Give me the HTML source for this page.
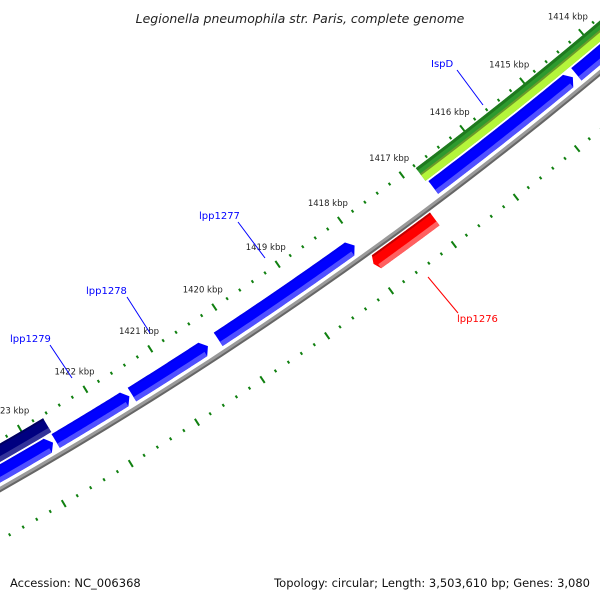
<!DOCTYPE html>
<html><head><meta charset="utf-8"><style>
html,body{margin:0;padding:0;background:#fff;}
svg{display:block;}
text{font-family:"DejaVu Sans","Liberation Sans",sans-serif;}
</style></head><body>
<svg id="map" width="600" height="600" viewBox="0 0 600 600" xmlns="http://www.w3.org/2000/svg">
<rect width="600" height="600" fill="#fff"/>
<g id="ticks"></g>
<g id="backbone"></g>
<g id="genes"></g>
<g id="labels"></g>
<g font-size="10">
<line x1="457" y1="70" x2="483" y2="105" stroke="#0000ff" stroke-width="1"/>
<text x="431" y="67" fill="#0000ff">IspD</text>
<line x1="238" y1="222" x2="265" y2="258" stroke="#0000ff" stroke-width="1"/>
<text x="199" y="219" fill="#0000ff">lpp1277</text>
<line x1="127" y1="297" x2="150" y2="333" stroke="#0000ff" stroke-width="1"/>
<text x="86" y="294" fill="#0000ff">lpp1278</text>
<line x1="50" y1="345" x2="72" y2="378" stroke="#0000ff" stroke-width="1"/>
<text x="10" y="342" fill="#0000ff">lpp1279</text>
<line x1="428" y1="277" x2="458" y2="313" stroke="#ff0000" stroke-width="1"/>
<text x="457" y="322" fill="#ff0000">lpp1276</text>
</g>
<text x="300" y="23" text-anchor="middle" font-size="12.5" font-style="italic" fill="#222">Legionella pneumophila str. Paris, complete genome</text>
<text x="10" y="587" font-size="11.5" fill="#111">Accession: NC_006368</text>
<text x="590" y="587" text-anchor="end" font-size="11.5" fill="#111">Topology: circular; Length: 3,503,610 bp; Genes: 3,080</text>
</svg>
<script>
const geneStart = [1420.19, 1421.52, 1422.68, 1425.0, 1416.77, 1414.40, 1425.0, 1416.80, 1417.98];
const geneEnd   = [1418.04, 1420.35, 1421.56, 1422.72, 1414.46, 1411.0, 1422.67, 1411.0, 1417.00];
const geneTrack = ["fwd","fwd","fwd","fwd","fwd","fwd","outer","outer","rev"];
const geneColor = ["blue","blue","blue","blue","blue","blue","navy","green","red"];
const majorTicks = [1413,1414,1415,1416,1417,1418,1419,1420,1421,1422,1423,1424];
const tickLabels = ["1413 kbp","1414 kbp","1415 kbp","1416 kbp","1417 kbp","1418 kbp","1419 kbp","1420 kbp","1421 kbp","1422 kbp","1423 kbp","1424 kbp"];

const NS="http://www.w3.org/2000/svg";
const CX=-2029, CY=-3072, R=4098;
function ang(k){return (51.02+1.08*(k-1415))*Math.PI/180;}
function pt(k,r){const a=ang(k);return [CX+r*Math.cos(a),CY+r*Math.sin(a)];}
function mk(tag,attrs,parent){const e=document.createElementNS(NS,tag);for(const k in attrs)e.setAttribute(k,attrs[k]);parent.appendChild(e);return e;}
function band(k1,k2,r1,r2,n){const p=[];n=n||40;for(let i=0;i<=n;i++){p.push(pt(k1+(k2-k1)*i/n,r1));}for(let i=n;i>=0;i--){p.push(pt(k1+(k2-k1)*i/n,r2));}return p;}
function poly(p){return p.map(q=>q[0].toFixed(2)+","+q[1].toFixed(2)).join(" ");}

// backbone
const bb=document.getElementById('backbone');
const bbp=[];for(let i=0;i<=80;i++)bbp.push(pt(1411+14*i/80,R+2));
let el=mk('polyline',{points:poly(bbp),fill:'none',stroke:'#666',"stroke-width":3},bb);


const bbp2=[];for(let i=0;i<=80;i++)bbp2.push(pt(1411+14*i/80,R));
el=mk('polyline',{points:poly(bbp2),fill:'none',stroke:'#9a9a9a',"stroke-width":3},bb);



// ticks
const tg=document.getElementById('ticks');
const lg=document.getElementById('labels');
for(let k=1411;k<=1426.001;k+=0.2){
  const kk=Math.round(k*5)/5;
  const major=Math.abs(kk-Math.round(kk))<1e-6;
  const len=major?4:1.5;
  [R-42,R+45].forEach(r=>{
    const a=pt(kk,r-len),b=pt(kk,r+len);
    const t=mk('line',{x1:a[0],y1:a[1],x2:b[0],y2:b[1],stroke:'#108010',"stroke-width":2},tg);
    
    
  });
}
majorTicks.forEach((k,i)=>{
  const p=pt(k,R-63);
  const t=mk('text',{x:p[0],y:p[1]+3,"text-anchor":"middle","font-size":"8.5",fill:"#222"},lg);
  t.textContent=tickLabels[i];
  
  
});

// genes
const gg=document.getElementById('genes');
const trackR={fwd:[R-21,R-5],outer:[R-39,R-23],rev:[R+5,R+21]};
const pal={blue:['#0000ee','#0000ff','#5050ff'],navy:['#000060','#000080','#333399'],green:['#1f7a1f','#2e9a2e','#b4f53a'],red:['#c00000','#ff0000','#ff6060']};
const AH=0.085/1.08*1.0; // arrow length in kbp (~6px)
geneStart.forEach((s,i)=>{
  const e=geneEnd[i],tr=trackR[geneTrack[i]],c=pal[geneColor[i]];
  const [r1,r2]=tr, rm=(r1+r2)/2;
  const g=mk('g',{},gg);
  
  
  // main body: from s (start) to e (tip side); arrow at e
  let tipK=e, bodyK;
  if(geneTrack[i]==='rev'){ // reverse gene arrow toward higher kbp (start side)
    tipK=s; bodyK=s-AH*0.6;
    const p=band(bodyK,e,r1,r2).concat([]);
    const pts=band(e,bodyK,r1,r2);
    const outline=[];const n=40;
    for(let j=0;j<=n;j++)outline.push(pt(e+(bodyK-e)*j/n,r1));
    outline.push(pt(tipK,rm));
    for(let j=n;j>=0;j--)outline.push(pt(e+(bodyK-e)*j/n,r2));
    mk('polygon',{points:poly(outline),fill:c[1]},g);
    mk('polygon',{points:poly(band(e,bodyK,r2-5,r2)),fill:c[2]},g);
    mk('polygon',{points:poly(band(e,bodyK,r1,r1+2)),fill:c[0]},g);
  } else {
    const arrow = geneTrack[i]==='fwd';
    bodyK = arrow ? e+AH : e;
    const outline=[];const n=40;
    for(let j=0;j<=n;j++)outline.push(pt(s+(bodyK-s)*j/n,r1));
    if(arrow)outline.push(pt(e,rm));
    for(let j=n;j>=0;j--)outline.push(pt(s+(bodyK-s)*j/n,r2));
    mk('polygon',{points:poly(outline),fill:c[1]},g);
    if(geneColor[i]==='green'){
      mk('polygon',{points:poly(band(s,bodyK,rm,r2)),fill:c[2]},g);
      mk('polygon',{points:poly(band(s,bodyK,rm-1,rm+1)),fill:'#6b9a2a'},g);
      mk('polygon',{points:poly(band(s,bodyK,r1,r1+3)),fill:c[0]},g);
    } else {
      mk('polygon',{points:poly(band(s,bodyK,r2-5,r2)),fill:c[2]},g);
      mk('polygon',{points:poly(band(s,bodyK,r1,r1+2)),fill:c[0]},g);
    }
  }
});
</script>
</body></html>
